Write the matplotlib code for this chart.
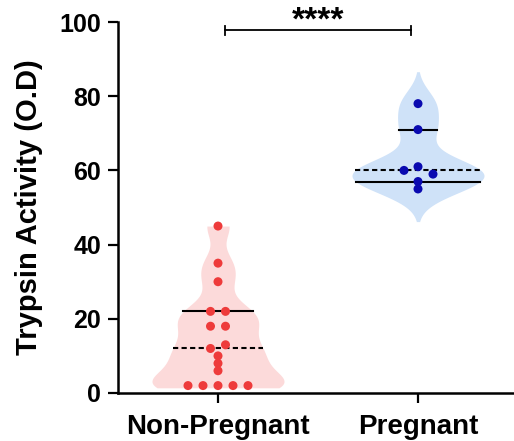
import numpy as np
import matplotlib
matplotlib.use("Agg")
import matplotlib.pyplot as plt

plt.rcParams['font.family'] = ['Liberation Sans', 'DejaVu Sans']
plt.rcParams['font.weight'] = 'bold'

# Data
groups = ["Non-Pregnant", "Pregnant"]
non_pregnant = [45, 35, 30, 22, 22, 18, 18, 13, 12, 10, 8, 6, 2, 2, 2, 2, 2]
pregnant = [78, 71, 61, 60, 59, 57, 55]
yticks = [0, 20, 40, 60, 80, 100]
significance = "****"

# horizontal offsets used to spread tied points
non_pregnant_dx = [0, 0, 0, -0.0375, 0.0375, -0.0375, 0.0375, 0.0375, -0.0375,
                   0, 0, 0, -0.15, -0.075, 0, 0.075, 0.15]
pregnant_dx = [0, 0, 0, -0.07, 0.075, 0, 0]

fill_colors = ["#fcdada", "#cfe2f8"]
dot_colors = ["#ee3b3b", "#0a0ab0"]
bandwidths = [3.5, 3.9]
grid_ranges = [(1.4, 45.0), (46.2, 86.6)]
half_width = 0.33


def kde(values, grid, bw):
    v = np.asarray(values, float)[:, None]
    return np.exp(-0.5 * ((grid[None, :] - v) / bw) ** 2).sum(axis=0)


fig = plt.figure(figsize=(5.14, 4.41), dpi=100)
ax = fig.add_axes([118 / 514, 48 / 441, 1 - 118 / 514, (393 - 22) / 441])

datasets = [non_pregnant, pregnant]
offsets = [non_pregnant_dx, pregnant_dx]
for i, (vals, dxs) in enumerate(zip(datasets, offsets)):
    lo, hi = grid_ranges[i]
    grid = np.linspace(lo, hi, 500)
    dens = kde(vals, grid, bandwidths[i])
    dens = dens / dens.max() * half_width
    ax.fill_betweenx(grid, i - dens, i + dens, color=fill_colors[i], lw=0, zorder=1)

    q1, med, q3 = np.percentile(vals, [25, 50, 75], method="weibull")
    for q, ls in [(med, (0, (2.5, 1.6))), (q1, "-"), (q3, "-")]:
        if q <= lo + 1.0:
            continue
        w = np.interp(q, grid, dens)
        ax.plot([i - w, i + w], [q, q], color="black", lw=1.5, ls=ls, zorder=2)

    ax.scatter(np.full(len(vals), i) + np.array(dxs), vals, s=42,
               color=dot_colors[i], edgecolors="none", zorder=3)

# significance bracket
yb = 97.8
ax.plot([0.035, 0.965], [yb, yb], color="black", lw=1.3, clip_on=False)
for xe in (0.035, 0.965):
    ax.plot([xe, xe], [yb - 1.2, yb + 1.2], color="black", lw=1.3, clip_on=False)
ax.text(0.5, yb - 1.8, significance, ha="center", va="bottom", fontsize=24,
        fontweight="bold")

ax.set_xlim(-0.5, 1.48)
ax.set_ylim(0, 100)
ax.set_yticks(yticks)
ax.set_xticks([0, 1])
ax.set_xticklabels(groups, fontsize=20)
ax.set_ylabel("Trypsin Activity (O.D)", fontsize=21, fontweight="bold", labelpad=12)

for side in ("top", "right"):
    ax.spines[side].set_visible(False)
for side in ("left", "bottom"):
    ax.spines[side].set_linewidth(1.8)
ax.tick_params(axis="both", width=1.6, length=7)
ax.tick_params(axis="y", labelsize=18, pad=5)
ax.tick_params(axis="x", pad=8)

fig.savefig("out.png", dpi=100)
